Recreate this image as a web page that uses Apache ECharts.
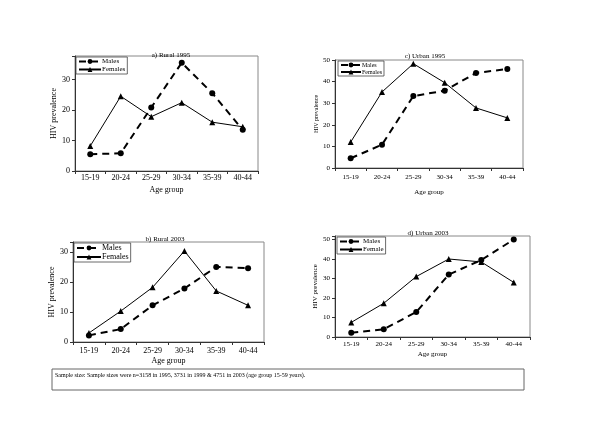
<!DOCTYPE html>
<html><head><meta charset="utf-8">
<script src="https://cdn.jsdelivr.net/npm/echarts@6/dist/echarts.min.js"></script>
<style>html,body{margin:0;padding:0;background:#fff}#c{width:600px;height:424px}</style>
</head><body><div id="c"></div>
<script>
const categories = ['15-19','20-24','25-29','30-34','35-39','40-44'];
const titles = ['a) Rural 1995','c) Urban 1995','b) Rural 2003','d) Urban 2003'];
const ruralMales1995   = [5.5, 5.8, 20.8, 35.5, 25.5, 13.5];
const ruralFemales1995 = [8.2, 24.5, 17.8, 22.4, 16.0, 14.5];
const urbanMales1995   = [4.5, 10.8, 33.3, 35.8, 44.0, 45.8];
const urbanFemales1995 = [12.0, 35.2, 48.3, 39.5, 27.8, 23.2];
const ruralMales2003   = [2.2, 4.3, 12.2, 17.8, 25.0, 24.6];
const ruralFemales2003 = [3.0, 10.3, 18.2, 30.3, 17.0, 12.2];
const urbanMales2003   = [2.2, 4.0, 12.8, 32.0, 39.5, 50.0];
const urbanFemale2003  = [7.5, 17.3, 31.0, 40.0, 38.5, 28.0];
const yTicks = [[0,10,20,30],[0,10,20,30,40,50],[0,10,20,30],[0,10,20,30,40,50]];
const caption = 'Sample size: Sample sizes were n=3158 in 1995, 3731 in 1999 & 4751 in 2003 (age group 15-59 years).';

const F = 'Liberation Serif';
const panels = [
  {grid:{left:75,top:56,width:183,height:115}, max:37.7, fs:8, lfs:8, nameGap:15, yGap:15, lm:3, tx:166, ty:47, leg:{left:76,top:57,fs:7,iw:22}},
  {grid:{left:335,top:60,width:188,height:108}, max:50, fs:7, lfs:6, nameGap:21, yGap:14, lm:6, tx:420, ty:48, leg:{left:338,top:61,fs:6,iw:20}},
  {grid:{left:73,top:242,width:191,height:100}, max:33.3, fs:8, lfs:8, nameGap:15, yGap:15, lm:5, tx:160, ty:231, leg:{left:74,top:243,fs:8,iw:24}},
  {grid:{left:335,top:236,width:195,height:101}, max:51.8, fs:7, lfs:7, nameGap:14, yGap:14, lm:4, tx:423, ty:225, leg:{left:337,top:237,fs:7,iw:22}}
];
const maleData = [ruralMales1995, urbanMales1995, ruralMales2003, urbanMales2003];
const femData = [ruralFemales1995, urbanFemales1995, ruralFemales2003, urbanFemale2003];
const femNames = ['Females','Females','Females','Female'];

const option = {
  animation:false,
  backgroundColor:'#fff',
  textStyle:{fontFamily:F, color:'#000'},
  title: panels.map((p,i)=>({text:titles[i], left:p.tx, top:p.ty, textAlign:'center',
    textStyle:{fontFamily:F, fontSize:7, fontWeight:'normal', color:'#000'}})),
  legend: panels.map((p,i)=>({
    left:p.leg.left, top:p.leg.top, orient:'vertical', itemGap:1, itemWidth:p.leg.iw, itemHeight:6,
    padding:[1,2,1,2], borderColor:'#444', borderWidth:0.8, backgroundColor:'#fff',
    data:[{name:'Males'},{name:femNames[i]}],
    textStyle:{fontFamily:F, fontSize:p.leg.fs, color:'#000', padding:[0,0,0,-4]},
    selectedMode:false
  })),
  grid: panels.map(p=>Object.assign({show:true, borderColor:'#888', borderWidth:1, backgroundColor:'transparent'}, p.grid)),
  xAxis: panels.map((p,i)=>({
    type:'category', gridIndex:i, data:categories, boundaryGap:true,
    name:'Age group', nameLocation:'middle', nameGap:p.nameGap,
    nameTextStyle:{fontFamily:F, fontSize:p.fs, color:'#000'},
    axisLine:{lineStyle:{color:'#333', width:1}},
    axisTick:{show:true, length:3, lineStyle:{color:'#333'}},
    axisLabel:{fontFamily:F, fontSize:p.fs, color:'#000', margin:p.lm},
    splitLine:{show:false}
  })),
  yAxis: panels.map((p,i)=>({
    type:'value', gridIndex:i, min:0, max:p.max, interval:10,
    name:'HIV prevalence', nameLocation:'middle', nameGap:p.yGap, nameRotate:90,
    nameTextStyle:{fontFamily:F, fontSize:p.lfs, color:'#000'},
    axisLine:{show:true, lineStyle:{color:'#333', width:1}},
    axisTick:{show:true, length:3, lineStyle:{color:'#333'}},
    axisLabel:{fontFamily:F, fontSize:p.fs, color:'#000', margin:5,
      formatter:v=> yTicks[i].indexOf(v)>=0 ? String(v) : ''},
    splitLine:{show:false}
  })),
  series: []
};
panels.forEach((p,i)=>{
  option.series.push({
    name:'Males', type:'line', xAxisIndex:i, yAxisIndex:i, data:maleData[i],
    symbol:'circle', symbolSize:6, itemStyle:{color:'#000'},
    lineStyle:{color:'#000', width:2, type:[7,5]}
  });
  option.series.push({
    name:femNames[i], type:'line', xAxisIndex:i, yAxisIndex:i, data:femData[i],
    symbol:'triangle', symbolSize:6, itemStyle:{color:'#000'},
    lineStyle:{color:'#000', width:1, type:'solid'}
  });
});
option.graphic = [
  {type:'rect', shape:{x:52, y:369, width:472, height:21}, style:{fill:'#fff', stroke:'#666', lineWidth:1}},
  {type:'text', x:55, y:372, style:{text:caption, fontFamily:F, fontSize:6, fill:'#000'}}
];
const chart = echarts.init(document.getElementById('c'), null, {renderer:'canvas'});
chart.setOption(option);
</script></body></html>
